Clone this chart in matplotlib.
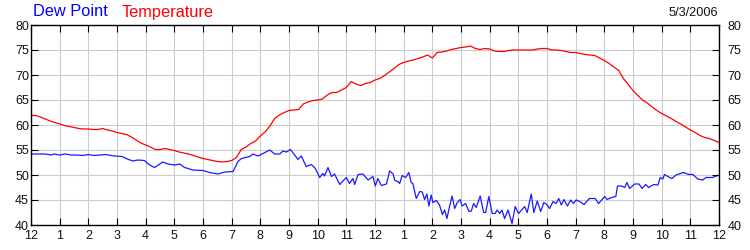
import numpy as np
import matplotlib
matplotlib.use("Agg")
import matplotlib.pyplot as plt

# Temperature, sampled every 10 minutes from 0:00 to 24:00
temp_values = [
    61.9, 61.9, 61.6, 61.2, 60.8, 60.5,
    60.2, 59.9, 59.7, 59.5, 59.3, 59.2,
    59.2, 59.1, 59.1, 59.3, 59.0, 58.8,
    58.5, 58.3, 58.1, 57.6, 57.0, 56.4,
    56.0, 55.6, 55.1, 55.1, 55.3, 55.1,
    54.9, 54.6, 54.4, 54.2, 53.9, 53.6,
    53.3, 53.1, 52.9, 52.7, 52.6, 52.7,
    52.9, 53.5, 55.1, 55.6, 56.3, 56.8,
    57.8, 58.6, 59.8, 61.3, 62.0, 62.5,
    62.9, 63.0, 63.1, 64.2, 64.6, 64.9,
    65.0, 65.2, 66.0, 66.5, 66.5, 67.0,
    67.5, 68.7, 68.2, 67.9, 68.3, 68.5,
    69.0, 69.3, 69.9, 70.6, 71.3, 72.1,
    72.5, 72.8, 73.0, 73.3, 73.6, 74.0,
    73.4, 74.5, 74.6, 74.8, 75.1, 75.3,
    75.5, 75.6, 75.8, 75.3, 75.1, 75.3,
    75.2, 74.8, 74.7, 74.7, 74.9, 75.0,
    75.0, 75.0, 75.0, 75.0, 75.2, 75.3,
    75.3, 75.0, 75.0, 74.9, 74.7, 74.5,
    74.5, 74.3, 74.1, 74.0, 73.9, 73.4,
    72.9, 72.3, 71.6, 70.9, 69.3, 68.1,
    66.9, 65.9, 65.0, 64.4, 63.6, 62.9,
    62.3, 61.8, 61.3, 60.7, 60.2, 59.6,
    59.0, 58.5, 57.9, 57.5, 57.3, 56.9,
    56.5,
]
temp_hours = np.arange(len(temp_values)) / 6.0

# Dew point readings (hour of day, value)
dew_hours = [
    0.0, 0.5, 0.7, 0.8, 1.0, 1.2, 1.4, 1.6, 1.8, 2.0, 2.2, 2.4, 2.6, 2.8,
    2.93, 3.17, 3.4, 3.56, 3.73, 3.96, 4.05, 4.14, 4.31, 4.6, 4.78, 5.01,
    5.19, 5.36, 5.65, 6.0, 6.23, 6.52, 6.76, 7.05, 7.22, 7.34, 7.63, 7.74,
    7.92, 8.09, 8.33, 8.5, 8.68, 8.79, 8.91, 9.05, 9.2, 9.31, 9.43, 9.6,
    9.78, 9.92, 10.07, 10.18, 10.24, 10.36, 10.48, 10.59, 10.77, 10.88,
    11.0, 11.11, 11.23, 11.29, 11.41, 11.58, 11.76, 11.93, 12.01, 12.1,
    12.22, 12.34, 12.4, 12.51, 12.63, 12.69, 12.8, 12.86, 12.95, 13.07,
    13.18, 13.26, 13.32, 13.44, 13.56, 13.65, 13.73, 13.81, 13.88, 13.96,
    14.02, 14.14, 14.25, 14.35, 14.43, 14.51, 14.6, 14.69, 14.78, 14.87,
    14.97, 15.04, 15.16, 15.28, 15.36, 15.44, 15.53, 15.67, 15.79, 15.86,
    15.97, 16.09, 16.19, 16.26, 16.35, 16.43, 16.52, 16.64, 16.78, 16.89,
    17.01, 17.13, 17.22, 17.31, 17.45, 17.54, 17.66, 17.78, 17.89, 18.01,
    18.09, 18.21, 18.32, 18.41, 18.5, 18.59, 18.71, 18.83, 18.92, 19.02,
    19.14, 19.29, 19.48, 19.68, 19.8, 20.01, 20.1, 20.25, 20.4, 20.46,
    20.6, 20.71, 20.79, 20.88, 21.06, 21.21, 21.32, 21.44, 21.55, 21.72,
    21.87, 21.95, 22.04, 22.1, 22.21, 22.36, 22.5, 22.76, 22.95, 23.09,
    23.26, 23.43, 23.55, 23.78, 23.95, 24.0,
]
dew_values = [
    54.2, 54.2, 54.0, 54.2, 54.0, 54.2, 54.0, 54.0, 53.9, 54.1, 53.9, 54.0, 54.1, 53.9,
    53.8, 53.7, 53.1, 52.8, 53.0, 52.9, 52.4, 52.0, 51.5, 52.6, 52.2, 52.0,
    52.2, 51.5, 51.0, 50.9, 50.5, 50.2, 50.6, 50.7, 52.7, 53.3, 53.7, 54.2,
    53.8, 54.3, 55.0, 54.2, 54.2, 54.8, 54.6, 55.1, 54.0, 53.1, 53.8, 51.7,
    52.1, 51.3, 49.5, 50.3, 49.8, 51.5, 49.7, 50.2, 48.1, 48.8,
    49.5, 48.3, 49.3, 48.1, 50.1, 50.2, 49.0, 49.7, 47.8, 49.3,
    47.9, 48.1, 48.2, 50.8, 50.2, 48.9, 48.7, 48.3, 49.9, 49.5,
    50.5, 48.5, 48.3, 45.3, 46.7, 46.6, 45.1, 46.2, 43.8, 46.0,
    44.5, 44.9, 44.0, 42.1, 43.0, 41.3, 43.7, 45.8, 43.3, 44.5,
    45.1, 43.8, 44.3, 42.7, 42.8, 44.3, 43.5, 45.8, 42.5, 42.5,
    45.7, 42.3, 42.3, 43.0, 42.3, 43.0, 41.3, 43.0, 40.3, 43.7,
    42.3, 43.1, 43.7, 42.5, 46.2, 42.5, 44.8, 42.7, 44.5, 44.0,
    43.3, 44.7, 44.3, 45.3, 44.0, 45.1, 43.8, 45.0, 44.3, 45.0,
    44.7, 44.1, 45.3, 45.3, 44.3, 45.7, 45.1, 45.5, 45.7, 47.8,
    47.8, 47.5, 48.5, 47.3, 48.2, 48.2, 47.3, 48.1, 47.5, 48.1,
    48.0, 49.5, 49.2, 50.1, 49.7, 49.3, 50.0, 50.5, 50.1, 50.1,
    49.2, 49.0, 49.5, 49.5, 49.9, 49.9,
]

hour_labels = ["12", "1", "2", "3", "4", "5", "6", "7", "8", "9", "10", "11",
               "12", "1", "2", "3", "4", "5", "6", "7", "8", "9", "10", "11", "12"]
y_ticks = [40, 45, 50, 55, 60, 65, 70, 75, 80]
date_text = "5/3/2006"

plt.rcParams['font.family'] = ['Liberation Sans', 'DejaVu Sans']

fig = plt.figure(figsize=(7.5, 2.5), dpi=100)
ax = fig.add_axes([31 / 750, 25 / 250, 688 / 750, 200 / 250])

ax.plot(temp_hours, temp_values, color="#ff0000", lw=0.9)
ax.plot(dew_hours, dew_values, color="#1a1aff", lw=0.9)

ax.set_xlim(0, 24)
ax.set_ylim(40, 80)
ax.set_xticks(range(25))
ax.set_xticklabels(hour_labels)
ax.set_yticks(y_ticks)
ax.grid(True, color="#cccccc", lw=0.8)
ax.set_axisbelow(True)

ax.tick_params(axis="both", direction="in", length=5, width=0.8, color="black",
               labelsize=9, labelcolor="#111111", top=True, right=True)
ax.tick_params(axis="x", pad=3.5)
ax.tick_params(axis="y", pad=1.5)

# right-hand value labels, slightly further from the frame
ax_r = ax.twinx()
ax_r.set_ylim(40, 80)
ax_r.set_yticks(y_ticks)
ax_r.tick_params(axis="y", direction="in", length=5, width=0.8, color="black",
                 labelsize=9, labelcolor="#111111", pad=6)
ax_r.spines[:].set_visible(False)

for sp in ax.spines.values():
    sp.set_linewidth(1.0)
    sp.set_color("black")

fig.text(33 / 750, 1 - 12 / 250, "Dew Point", color="#0000ff", fontsize=11.8,
         ha="left", va="center")
fig.text(122 / 750, 1 - 12 / 250, "Temperature", color="#ff0000", fontsize=11.8,
         ha="left", va="center")
fig.text(718 / 750, 1 - 13 / 250, date_text, color="#111111", fontsize=9.2,
         ha="right", va="center")

fig.savefig("out.png", dpi=100)
